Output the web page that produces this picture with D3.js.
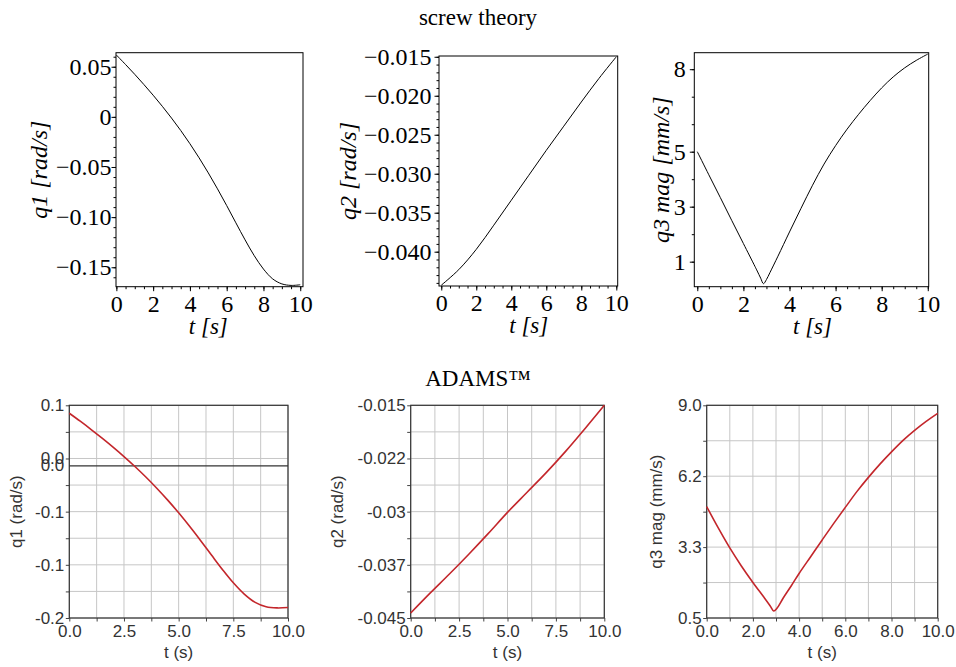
<!DOCTYPE html>
<html>
<head>
<meta charset="utf-8">
<script src="https://cdn.jsdelivr.net/npm/d3@7/dist/d3.min.js"></script>
<style>
  body { margin: 0; background: #fff; }
  svg { display: block; }
  .serif text { font-family: "Liberation Serif", "Times New Roman", serif; fill: #000; }
  .sans text { font-family: "Liberation Sans", Arial, sans-serif; fill: #333; }
</style>
</head>
<body>
<svg id="chart" width="956" height="667"></svg>
<script>
// ---- data ----
// screw theory (top row)
const tQ1 = [0, 0.5, 1, 1.5, 2, 2.5, 3, 3.5, 4, 4.5, 5, 5.5, 6, 6.5, 7, 7.5, 8, 8.5, 9, 9.5, 10];
const q1Screw = [0.0617, 0.0522, 0.0424, 0.0322, 0.0216, 0.0105, -0.0012, -0.0136, -0.0268, -0.0409, -0.0559,
  -0.0718, -0.0885, -0.1057, -0.1227, -0.1385, -0.1518, -0.1616, -0.1666, -0.1681, -0.1675];

const tQ2 = [0, 1, 2, 3, 4, 5, 6, 7, 8, 9, 10];
const q2Screw = [-0.0443, -0.0423, -0.0397, -0.0366, -0.0334, -0.0302, -0.0270, -0.0239, -0.0208, -0.0178, -0.0150];

const tQ3 = [0, 0.5, 1, 1.5, 2, 2.5, 2.6, 2.75, 2.87, 3.0, 3.15, 3.5, 4, 4.5, 5, 5.5, 6, 6.5, 7, 7.5, 8, 8.5, 9, 9.5, 10];
const q3Screw = [5.0, 4.16, 3.33, 2.49, 1.66, 0.83, 0.66, 0.4, 0.2, 0.35, 0.6, 1.2, 2.08, 2.94, 3.78, 4.55, 5.22,
  5.82, 6.36, 6.86, 7.32, 7.72, 8.05, 8.32, 8.55];

// ADAMS (bottom row)
const q1Adams = [0.062, 0.0526, 0.0428, 0.0326, 0.0220, 0.0109, -0.0008, -0.0132, -0.0264, -0.0405, -0.0555,
  -0.0714, -0.0881, -0.1053, -0.1223, -0.1381, -0.1514, -0.1612, -0.1664, -0.1677, -0.1672];
const q2Adams = [-0.0443, -0.0415, -0.0388, -0.0360, -0.0331, -0.0301, -0.0273, -0.0245, -0.0215, -0.0183, -0.0150];
const tQ3a = [0, 0.5, 1, 1.5, 2, 2.5, 2.75, 2.9, 3.05, 3.3, 3.67, 4, 4.5, 5, 5.5, 6, 6.5, 7, 7.5, 8, 8.5, 9, 9.5, 10];
const q3Adams = [4.95, 4.1, 3.3, 2.58, 1.92, 1.3, 0.98, 0.78, 0.9, 1.28, 1.8, 2.28, 2.95, 3.62, 4.28, 4.92,
  5.55, 6.12, 6.65, 7.14, 7.6, 8.0, 8.36, 8.68];

// tick labels
const mapleXTicks = [0, 2, 4, 6, 8, 10];
const q1MapleTicks = [0.05, 0, -0.05, -0.10, -0.15];
const q1MapleLabels = ['0.05', '0', '\u22120.05', '\u22120.10', '\u22120.15'];
const q2MapleTicks = [-0.015, -0.020, -0.025, -0.030, -0.035, -0.040];
const q2MapleLabels = ['\u22120.015', '\u22120.020', '\u22120.025', '\u22120.030', '\u22120.035', '\u22120.040'];
const q3MapleTicks = [1, 3, 5, 8];
const q3MapleLabels = ['1', '3', '5', '8'];

const adamsX8Labels = ['0.0', '2.5', '5.0', '7.5', '10.0'];
const adamsX10Labels = ['0.0', '2.0', '4.0', '6.0', '8.0', '10.0'];
const q1AdamsLabels = ['-0.2', '-0.1', '-0.1', '0.0', '0.1'];
const q2AdamsLabels = ['-0.045', '-0.037', '-0.03', '-0.022', '-0.015'];
const q3AdamsLabels = ['0.5', '3.3', '6.2', '9.0'];

const svg = d3.select('#chart');

// ---- screw theory panel (Maple look) ----
function drawMaple(cfg) {
  const g = svg.append('g').attr('class', 'serif');
  const x = d3.scaleLinear().domain(cfg.xDomain).range([cfg.left, cfg.right]);
  const y = d3.scaleLinear().domain(cfg.yDomain).range([cfg.bottom, cfg.top]);

  // minor ticks
  g.append('g')
      .attr('transform', `translate(${cfg.left},0)`)
      .call(d3.axisLeft(y).tickValues(cfg.yMinor).tickSize(2.5).tickFormat(''))
      .call(a => a.select('.domain').remove());
  g.append('g')
      .attr('transform', `translate(0,${cfg.bottom})`)
      .call(d3.axisBottom(x).tickValues(d3.range(0, 10.01, 0.5)).tickSize(2.5).tickFormat(''))
      .call(a => a.select('.domain').remove());

  // major ticks + labels
  g.append('g')
      .attr('transform', `translate(${cfg.left},0)`)
      .call(d3.axisLeft(y).tickValues(cfg.yTicks).tickSize(4.5).tickPadding(cfg.yPad)
        .tickFormat((d, i) => cfg.yLabels[i]))
      .call(a => a.select('.domain').remove())
      .attr('font-family', null).attr('font-size', 24);
  g.append('g')
      .attr('transform', `translate(0,${cfg.bottom})`)
      .call(d3.axisBottom(x).tickValues(mapleXTicks).tickSize(4.5).tickPadding(3.5))
      .call(a => a.select('.domain').remove())
      .attr('font-family', null).attr('font-size', 24);

  g.append('rect')
      .attr('x', cfg.left).attr('y', cfg.top)
      .attr('width', cfg.right - cfg.left).attr('height', cfg.bottom - cfg.top)
      .attr('fill', 'none').attr('stroke', '#000').attr('stroke-width', 1);

  g.append('path')
      .datum(cfg.t.map((t, i) => [t, cfg.v[i]]))
      .attr('fill', 'none').attr('stroke', '#000').attr('stroke-width', 1)
      .attr('d', d3.line().x(d => x(d[0])).y(d => y(d[1])).curve(d3.curveCatmullRom));

  g.append('text')
      .attr('x', x(5)).attr('y', cfg.bottom + 47)
      .attr('text-anchor', 'middle').attr('font-size', 23).attr('font-style', 'italic')
      .text('t [s]');
  g.append('text')
      .attr('transform', `translate(${cfg.titleX},${(cfg.top + cfg.bottom) / 2}) rotate(-90)`)
      .attr('text-anchor', 'middle').attr('dy', '0.35em')
      .attr('font-size', 24).attr('font-style', 'italic')
      .text(cfg.title);
}

// ---- ADAMS panel ----
function drawAdams(cfg) {
  const g = svg.append('g').attr('class', 'sans');
  const x = d3.scaleLinear().domain([0, 10]).range([cfg.left, cfg.right]);
  const y = d3.scaleLinear().domain(cfg.yDomain).range([cfg.bottom, cfg.top]);
  const gx = d3.range(cfg.nx + 1).map(i => 10 * i / cfg.nx);
  const gy = d3.range(cfg.ny + 1).map(i => cfg.yDomain[0] + (cfg.yDomain[1] - cfg.yDomain[0]) * i / cfg.ny);

  g.append('g').selectAll('line').data(gx).join('line')
      .attr('x1', d => x(d)).attr('x2', d => x(d))
      .attr('y1', cfg.top).attr('y2', cfg.bottom)
      .attr('stroke', '#c6c6c6').attr('stroke-width', 1);
  g.append('g').selectAll('line').data(gy).join('line')
      .attr('y1', d => y(d)).attr('y2', d => y(d))
      .attr('x1', cfg.left).attr('x2', cfg.right)
      .attr('stroke', '#c6c6c6').attr('stroke-width', 1);

  g.append('g')
      .attr('transform', `translate(0,${cfg.bottom})`)
      .call(d3.axisBottom(x).tickValues(gx).tickSize(3.5).tickPadding(3)
        .tickFormat((d, i) => i % 2 === 0 ? cfg.xLabels[i / 2] : ''))
      .call(a => a.select('.domain').remove())
      .attr('font-family', null).attr('font-size', 17)
      .call(a => a.selectAll('line').attr('stroke', '#444'));
  g.append('g')
      .attr('transform', `translate(${cfg.left},0)`)
      .call(d3.axisLeft(y).tickValues(gy).tickSize(3.5).tickPadding(1.5)
        .tickFormat((d, i) => i % 2 === 0 ? cfg.yLabels[i / 2] : ''))
      .call(a => a.select('.domain').remove())
      .attr('font-family', null).attr('font-size', 17)
      .call(a => a.selectAll('line').attr('stroke', '#444'));

  if (cfg.zeroLabel) {
    g.append('line')
        .attr('x1', cfg.left).attr('x2', cfg.right)
        .attr('y1', y(0)).attr('y2', y(0))
        .attr('stroke', '#333').attr('stroke-width', 1.2);
    g.append('text')
        .attr('x', cfg.left - 5).attr('y', y(0)).attr('dy', '0.32em')
        .attr('text-anchor', 'end').attr('font-size', 17)
        .text(cfg.zeroLabel);
  }

  g.append('rect')
      .attr('x', cfg.left).attr('y', cfg.top)
      .attr('width', cfg.right - cfg.left).attr('height', cfg.bottom - cfg.top)
      .attr('fill', 'none').attr('stroke', '#333').attr('stroke-width', 1.2);

  g.append('path')
      .datum(cfg.t.map((t, i) => [t, cfg.v[i]]))
      .attr('fill', 'none').attr('stroke', '#c3262b').attr('stroke-width', 1.6)
      .attr('d', d3.line().x(d => x(d[0])).y(d => y(d[1])).curve(d3.curveCatmullRom));

  g.append('text')
      .attr('x', x(5)).attr('y', 658)
      .attr('text-anchor', 'middle').attr('font-size', 17)
      .text('t (s)');
  g.append('text')
      .attr('transform', `translate(${cfg.titleX},${(cfg.top + cfg.bottom) / 2}) rotate(-90)`)
      .attr('text-anchor', 'middle').attr('dy', '0.35em').attr('font-size', 17)
      .text(cfg.title);
}

// row titles
svg.append('text')
    .attr('x', 478).attr('y', 25).attr('text-anchor', 'middle')
    .style('font-family', '"Liberation Serif", serif').style('font-size', '23px')
    .text('screw theory');
svg.append('text')
    .attr('x', 478).attr('y', 386).attr('text-anchor', 'middle')
    .style('font-family', '"Liberation Serif", serif').style('font-size', '23px')
    .text('ADAMS\u2122');

drawMaple({
  left: 116, right: 303, top: 52.7, bottom: 286.7,
  xDomain: [-0.02, 10.15], yDomain: [-0.1694, 0.064],
  yTicks: q1MapleTicks, yLabels: q1MapleLabels, yMinor: d3.range(-0.16, 0.065, 0.01), yPad: 0,
  t: tQ1, v: q1Screw, title: 'q1 [rad/s]', titleX: 39
});
drawMaple({
  left: 439, right: 617.7, top: 56, bottom: 286,
  xDomain: [-0.13, 10.08], yDomain: [-0.0444, -0.0149],
  yTicks: q2MapleTicks, yLabels: q2MapleLabels, yMinor: d3.range(-0.044, -0.0149, 0.001), yPad: 3,
  t: tQ2, v: q2Screw, title: 'q2 [rad/s]', titleX: 348
});
drawMaple({
  left: 694.3, right: 928.7, top: 52.7, bottom: 286.7,
  xDomain: [-0.13, 10.04], yDomain: [0.09, 8.6],
  yTicks: q3MapleTicks, yLabels: q3MapleLabels, yMinor: d3.range(1, 8.5, 1), yPad: 4,
  t: tQ3, v: q3Screw, title: 'q3 mag [mm/s]', titleX: 661
});

drawAdams({
  left: 69.3, right: 288, top: 405.3, bottom: 618,
  yDomain: [-0.1796, 0.0714], nx: 8, ny: 8,
  xLabels: adamsX8Labels, yLabels: q1AdamsLabels, zeroLabel: '0.0',
  t: tQ1, v: q1Adams, title: 'q1 (rad/s)', titleX: 16
});
drawAdams({
  left: 410.7, right: 604.3, top: 405.3, bottom: 618,
  yDomain: [-0.045, -0.015], nx: 8, ny: 8,
  xLabels: adamsX8Labels, yLabels: q2AdamsLabels,
  t: tQ2, v: q2Adams, title: 'q2 (rad/s)', titleX: 337.5
});
drawAdams({
  left: 706.7, right: 937.7, top: 405.3, bottom: 618,
  yDomain: [0.5, 9.0], nx: 10, ny: 6,
  xLabels: adamsX10Labels, yLabels: q3AdamsLabels,
  t: tQ3a, v: q3Adams, title: 'q3 mag (mm/s)', titleX: 656
});
</script>
</body>
</html>
